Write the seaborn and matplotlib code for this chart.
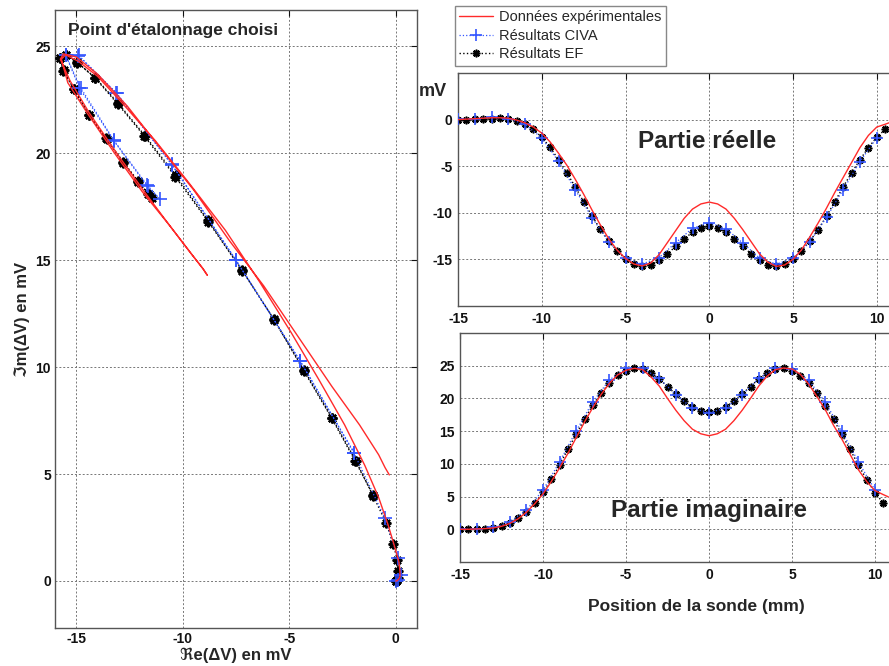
import matplotlib
matplotlib.use("Agg")
import matplotlib.pyplot as plt
import seaborn as sns

# Données expérimentales : position (mm), partie réelle et imaginaire (mV)
pos_exp = [-15, -14.5, -14, -13.5, -13, -12.5, -12, -11.5, -11, -10.5, -10, -9.5, -9, -8.5,
           -8, -7.5, -7, -6.5, -6, -5.5, -5, -4.5, -4, -3.5, -3, -2.5, -2, -1.5, -1, -0.5,
           0, 0.5, 1, 1.5, 2, 2.5, 3, 3.5, 4, 4.5, 5, 5.5, 6, 6.5, 7, 7.5, 8, 8.5, 9, 9.5,
           10, 10.5, 10.8]
re_exp = [0.0, 0.05, 0.1, 0.15, 0.2, 0.2, 0.15, -0.05, -0.35, -0.8, -1.45, -2.4, -3.6, -4.9,
          -6.4, -8.0, -9.7, -11.3, -12.8, -14.0, -14.9, -15.5, -15.7, -15.4, -14.5, -13.2,
          -11.9, -10.6, -9.6, -9.05, -8.85, -9.05, -9.6, -10.6, -11.8, -13.1, -14.4, -15.3,
          -15.75, -15.6, -15.0, -14.0, -12.6, -11.1, -9.5, -7.8, -6.2, -4.6, -3.0, -1.7,
          -0.8, -0.5, -0.3]
im_exp = [0.0, 0.0, 0.05, 0.1, 0.2, 0.45, 0.9, 1.6, 2.6, 3.9, 5.4, 7.3, 9.4, 11.6,
          14.0, 16.4, 18.6, 20.6, 22.3, 23.6, 24.3, 24.6, 24.4, 23.3, 21.9, 20.0,
          18.2, 16.6, 15.3, 14.6, 14.3, 14.6, 15.3, 16.6, 18.2, 20.0, 21.9, 23.4,
          24.4, 24.65, 24.5, 23.7, 22.2, 20.3, 18.3, 15.9, 13.8, 11.45, 9.1, 7.3,
          5.9, 5.3, 4.96]

# Résultats CIVA (pas de 1 mm)
pos_civa = [-15, -14, -13, -12, -11, -10, -9, -8, -7, -6, -5, -4, -3, -2, -1,
            0, 1, 2, 3, 4, 5, 6, 7, 8, 9, 10]
re_civa = [0.02, 0.1, 0.27, 0.11, -0.51, -1.96, -4.49, -7.52, -10.51, -13.13, -14.89,
           -15.5, -14.8, -13.21, -11.65, -11.06, -11.7, -13.25, -14.85, -15.5, -14.9,
           -13.1, -10.5, -7.5, -4.5, -1.95]
im_civa = [0.0, 0.05, 0.29, 1.07, 2.94, 5.98, 10.3, 15.03, 19.48, 22.83, 24.58,
           24.6, 23.07, 20.57, 18.49, 17.84, 18.5, 20.6, 23.05, 24.6, 24.55,
           22.8, 19.45, 15.0, 10.3, 6.0]

# Résultats EF (pas de 0.5 mm)
pos_ef = [-15, -14.5, -14, -13.5, -13, -12.5, -12, -11.5, -11, -10.5, -10, -9.5, -9, -8.5,
          -8, -7.5, -7, -6.5, -6, -5.5, -5, -4.5, -4, -3.5, -3, -2.5, -2, -1.5, -1, -0.5,
          0, 0.5, 1, 1.5, 2, 2.5, 3, 3.5, 4, 4.5, 5, 5.5, 6, 6.5, 7, 7.5, 8, 8.5, 9, 9.5,
          10, 10.5]
re_ef = [0.0, 0.0, 0.02, 0.05, 0.1, 0.12, 0.08, -0.12, -0.44, -1.06, -1.88, -2.98, -4.3,
         -5.73, -7.21, -8.82, -10.33, -11.78, -13.05, -14.1, -14.95, -15.5, -15.75, -15.62,
         -15.1, -14.42, -13.58, -12.79, -12.09, -11.6, -11.45, -11.62, -12.1, -12.8, -13.6,
         -14.4, -15.1, -15.6, -15.75, -15.5, -14.95, -14.1, -13.05, -11.8, -10.35, -8.8,
         -7.2, -5.7, -4.3, -3.0, -1.9, -1.05]
im_ef = [0.0, 0.0, 0.02, 0.05, 0.15, 0.45, 0.98, 1.72, 2.7, 3.98, 5.63, 7.62, 9.85, 12.25,
         14.53, 16.87, 18.97, 20.83, 22.36, 23.53, 24.24, 24.6, 24.45, 23.84, 22.99, 21.8,
         20.65, 19.55, 18.65, 18.1, 17.9, 18.1, 18.7, 19.6, 20.7, 21.8, 23.0, 23.9, 24.45,
         24.6, 24.25, 23.5, 22.3, 20.8, 18.9, 16.8, 14.5, 12.2, 9.8, 7.6, 5.6, 4.0]

RED = '#ff2a2a'
BLUE = '#3355ff'

sns.set_style("white")
plt.rcParams['font.family'] = ['Liberation Sans', 'DejaVu Sans']
plt.rcParams['font.weight'] = 'bold'
plt.rcParams['axes.unicode_minus'] = False

W, H = 889, 666
fig = plt.figure(figsize=(W / 100, H / 100), dpi=100)


def px_axes(left, top, right, bottom):
    return fig.add_axes([left / W, 1 - bottom / H, (right - left) / W, (bottom - top) / H])


def style(ax, pad):
    ax.grid(True, color='#777777', linestyle=(0, (2, 2)), linewidth=0.7)
    ax.tick_params(direction='in', length=4, width=0.8, labelsize=10, pad=pad,
                   top=True, right=True, colors='#111111')
    for s in ax.spines.values():
        s.set_color('#555555')
        s.set_linewidth(1.0)


def add_line(ax, x, y, sort, label, marker=None, ms=0, mew=1.0, **kws):
    sns.lineplot(x=x, y=y, sort=sort, estimator=None, ax=ax, legend=False,
                 label=label, **kws)
    line = ax.lines[-1]
    if marker is not None:
        line.set_marker(marker)
        line.set_markersize(ms)
        line.set_markeredgewidth(mew)
        line.set_markeredgecolor(kws['color'])
        line.set_markerfacecolor(kws['color'])
    return line


def draw(ax, x_ef, y_ef, x_civa, y_civa, x_exp, y_exp, ms_ef, mew_ef, ms_civa, sort,
         labels=False):
    add_line(ax, x_ef, y_ef, sort, 'Résultats EF' if labels else None,
             marker=(8, 2, 0), ms=ms_ef, mew=mew_ef,
             color='black', linestyle=':', linewidth=1.0, zorder=3)
    add_line(ax, x_civa, y_civa, sort, 'Résultats CIVA' if labels else None,
             marker='+', ms=ms_civa, mew=1.2,
             color=BLUE, linestyle=':', linewidth=0.9, zorder=4)
    add_line(ax, x_exp, y_exp, sort, 'Données expérimentales' if labels else None,
             color=RED, linewidth=1.0, zorder=5)


# Plan d'impédance (partie imaginaire en fonction de la partie réelle)
ax_l = px_axes(55, 10, 417, 628)
draw(ax_l, re_ef, im_ef, re_civa, im_civa, re_exp, im_exp, 7, 1.5, 10, False)
ax_l.set_xlim(-16, 1)
ax_l.set_ylim(-2.2, 26.7)
ax_l.set_xticks([-15, -10, -5, 0])
ax_l.set_yticks([0, 5, 10, 15, 20, 25])
style(ax_l, 3)
ax_l.set_xlabel('ℜe(ΔV) en mV', fontsize=12, fontweight='bold', labelpad=1)
ax_l.set_ylabel('ℑm(ΔV) en mV', fontsize=12, fontweight='bold', labelpad=4)
ax_l.text(0.036, 0.967, "Point d'étalonnage choisi", transform=ax_l.transAxes,
          fontsize=12.5, fontweight='bold', va='center', ha='left')

# Partie réelle
ax_re = px_axes(458, 73, 458 + 30 * 16.75, 306)
draw(ax_re, pos_ef, re_ef, pos_civa, re_civa, pos_exp, re_exp, 5.5, 1.2, 8, True, labels=True)
ax_re.set_xlim(-15, 15)
ax_re.set_ylim(-20, 5)
ax_re.set_xticks([-15, -10, -5, 0, 5, 10])
ax_re.set_yticks([-15, -10, -5, 0])
style(ax_re, 4)

# Partie imaginaire
ax_im = px_axes(460, 333, 460 + 30 * 16.6, 562)
draw(ax_im, pos_ef, im_ef, pos_civa, im_civa, pos_exp, im_exp, 5.5, 1.2, 8, True)
ax_im.set_xlim(-15, 15)
ax_im.set_ylim(-5, 30)
ax_im.set_xticks([-15, -10, -5, 0, 5, 10])
ax_im.set_yticks([0, 5, 10, 15, 20, 25])
style(ax_im, 4)

fig.text(707 / W, 1 - 142 / H, 'Partie réelle', fontsize=17.5, fontweight='bold',
         ha='center', va='center')
fig.text(709 / W, 1 - 510 / H, 'Partie imaginaire', fontsize=17.5, fontweight='bold',
         ha='center', va='center')
fig.text(433 / W, 1 - 92 / H, 'mV', fontsize=13, fontweight='bold', ha='center', va='center')
fig.text(696 / W, 1 - 607 / H, 'Position de la sonde (mm)', fontsize=12.5, fontweight='bold',
         ha='center', va='center')

# Légende
handles, labels = ax_re.get_legend_handles_labels()
order = [labels.index(k) for k in ['Données expérimentales', 'Résultats CIVA', 'Résultats EF']]
fig.legend([handles[i] for i in order], [labels[i] for i in order],
           loc='upper left', bbox_to_anchor=(455 / W, 1 - 6 / H), frameon=True,
           fancybox=False, edgecolor='#888888', framealpha=1,
           prop={'size': 10.5, 'weight': 'normal'}, handlelength=2.3,
           handletextpad=0.4, borderpad=0.3, labelspacing=0.3, borderaxespad=0)

fig.savefig('out.png', dpi=100)
